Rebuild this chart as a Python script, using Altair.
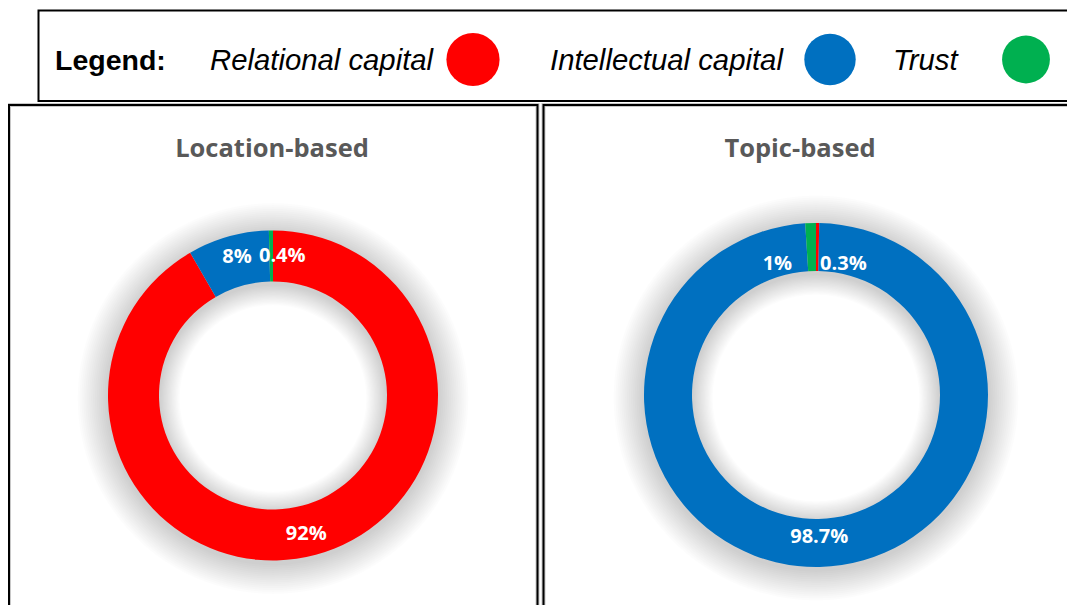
import math
import altair as alt
import pandas as pd

# ---- data ----
categories = ["Relational capital", "Intellectual capital", "Trust"]
colors = ["#FF0000", "#0070C0", "#00B050"]
location_values = [92, 8, 0.4]
location_labels = ["92%", "8%", "0.4%"]
topic_values = [0.3, 98.7, 1]
topic_labels = ["0.3%", "98.7%", "1%"]
panel_titles = ["Location-based", "Topic-based"]

loc_df = pd.DataFrame({"category": categories, "value": location_values,
                       "label": location_labels, "order": [0, 1, 2]})
top_df = pd.DataFrame({"category": categories, "value": topic_values,
                       "label": topic_labels, "order": [0, 1, 2]})

color_scale = alt.Scale(domain=categories, range=colors)
dummy = alt.Data(values=[{"a": 1}])

W, H = 1059, 597
layers = []

# panel frames
def frame(x0, y0, x1, y1, sw_black=2, grey=True):
    out = []
    if grey:
        out.append(alt.Chart(dummy).mark_rect(fill=None, stroke="#c8c8c8", strokeWidth=4).encode(
            x=alt.value(x0), x2=alt.value(x1), y=alt.value(y0), y2=alt.value(y1)))
    out.append(alt.Chart(dummy).mark_rect(fill=None, stroke="black", strokeWidth=sw_black).encode(
        x=alt.value(x0), x2=alt.value(x1), y=alt.value(y0), y2=alt.value(y1)))
    return out

layers += frame(1, 97, 529.5, 700)
layers += frame(535.5, 97, 1100, 700)
layers += frame(30.5, 2.5, 1100, 93, sw_black=2, grey=False)

# donuts
donuts = [
    dict(df=loc_df, cx=265, cy=387.5, ro=165, ri=114,
         offs={"Relational capital": (-3, 4), "Intellectual capital": (2, -4), "Trust": (11, 0)},
         title=panel_titles[0], tx=264),
    dict(df=top_df, cx=808, cy=387, ro=172, ri=124,
         offs={"Relational capital": (26, 17), "Intellectual capital": (0, -6), "Trust": (-34, 17)},
         title=panel_titles[1], tx=792),
]

for d in donuts:
    cx, cy, ro, ri = d["cx"], d["cy"], d["ro"], d["ri"]
    # soft shadow
    for k in range(1, 17):
        layers.append(alt.Chart(dummy).mark_arc(
            theta=0, theta2=2 * math.pi, radius=ro + 1.9 * k, radius2=max(ri - 1.3 * k, 0),
            color="black", opacity=0.010).encode(x=alt.value(cx), y=alt.value(cy + 3)))
    # ring
    layers.append(alt.Chart(d["df"]).mark_arc(radius=ro, radius2=ri).encode(
        theta=alt.Theta("value:Q", stack=True),
        color=alt.Color("category:N", scale=color_scale, legend=None),
        order=alt.Order("order:Q"),
        x=alt.value(cx), y=alt.value(cy)))
    # labels
    rmid = (ro + ri) / 2
    for cat in categories:
        dx, dy = d["offs"][cat]
        layers.append(alt.Chart(d["df"]).transform_calculate(
            txt=f"datum.category == '{cat}' ? datum.label : ''"
        ).mark_text(radius=rmid, font="Open Sans", fontSize=20, fontWeight="bold",
                    color="white", dx=dx, dy=dy, align="center", baseline="middle").encode(
            theta=alt.Theta("value:Q", stack=True),
            order=alt.Order("order:Q"),
            text="txt:N",
            x=alt.value(cx), y=alt.value(cy)))
    # title
    layers.append(alt.Chart(dummy).mark_text(
        text=d["title"], font="Open Sans", fontSize=25.5, fontWeight="bold", color="#595959",
        align="center", baseline="alphabetic").encode(x=alt.value(d["tx"]), y=alt.value(149)))

# legend
layers.append(alt.Chart(dummy).mark_text(
    text="Legend:", font="Liberation Sans", fontSize=28.5, fontWeight="bold", color="black",
    align="left", baseline="alphabetic").encode(x=alt.value(47), y=alt.value(62)))
legend_text_x = [202, 542, 885]
legend_dot_x = [465, 822, 1018]
legend_dot_r = [30, 29, 27]
for cat, col, tx, dxp, r in zip(categories, colors, legend_text_x, legend_dot_x, legend_dot_r):
    layers.append(alt.Chart(dummy).mark_text(
        text=cat, font="Liberation Sans", fontSize=29.3, fontStyle="italic", color="black",
        align="left", baseline="alphabetic").encode(x=alt.value(tx), y=alt.value(62)))
    layers.append(alt.Chart(dummy).mark_point(
        shape="circle", filled=True, color=col, opacity=1, size=math.pi * r * r).encode(
        x=alt.value(dxp), y=alt.value(51.5)))

chart = alt.layer(*layers).resolve_scale(theta="independent").properties(
    width=W, height=H, padding=0, autosize=alt.AutoSizeParams(type="none")
).configure_view(stroke=None)

chart.save("out.html", embed_options={"renderer": "svg", "actions": False})
